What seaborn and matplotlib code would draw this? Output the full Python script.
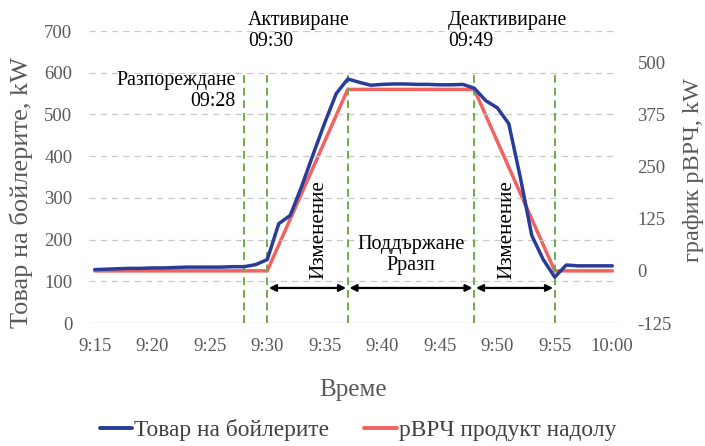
import matplotlib
matplotlib.use("Agg")
import matplotlib.pyplot as plt
import seaborn as sns
import pandas as pd

# Boiler load, kW, one reading per minute from 9:15 to 10:00
minutes = list(range(15, 61))
boiler_kw = [128, 129, 130, 131, 131, 132, 132, 133, 134, 134, 134, 134, 135, 135,
             140, 152, 238, 258, 328, 405, 480, 550, 585, 577, 570, 572, 573, 573,
             572, 572, 571, 571, 572, 563, 533, 516, 478, 350, 210, 152, 110, 139,
             137, 137, 137, 137]

# Downward aFRR product schedule (corner points), kW
product_minutes = [15, 30, 37, 48, 55, 60]
product_kw = [0, 0, 435, 435, 0, 0]

tick_minutes = [15, 20, 25, 30, 35, 40, 45, 50, 55, 60]
tick_labels = ["9:15", "9:20", "9:25", "9:30", "9:35", "9:40", "9:45", "9:50", "9:55", "10:00"]
event_minutes = [28, 30, 37, 48, 55]

left_ticks = [0, 100, 200, 300, 400, 500, 600, 700]
right_ticks = [-125, 0, 125, 250, 375, 500]

sns.set_theme(style="white")
plt.rcParams["font.family"] = "serif"
plt.rcParams["font.serif"] = ["Liberation Serif", "DejaVu Serif"]

BLUE = "#283c98"
RED = "#f2625e"
GREEN = "#6aad4a"
TICK = "#595959"

fig = plt.figure(figsize=(7.05, 4.46), dpi=100)
ax = fig.add_axes([89 / 705, 1 - 323 / 446, 529 / 705, 292 / 446])
ax2 = ax.twinx()

df_boiler = pd.DataFrame({"t": minutes, "kw": boiler_kw})
df_prod = pd.DataFrame({"t": product_minutes, "kw": product_kw})

for y in left_ticks[1:]:
    ax.axhline(y, color="#c8c8c8", lw=0.9, ls=(0, (5, 4)), zorder=0)
ax.axhline(0, color="#d9c8c8", lw=1.0, zorder=0)

# Event markers from the baseline up to the 600 kW grid line
ax.vlines(event_minutes, 0, 600, color=GREEN, lw=1.4, linestyles=(0, (4, 2.5)), zorder=1)

sns.lineplot(data=df_prod, x="t", y="kw", ax=ax2, color=RED, lw=2.5, zorder=3)
sns.lineplot(data=df_boiler, x="t", y="kw", ax=ax, color=BLUE, lw=2.5, zorder=4)

ax.set_zorder(ax2.get_zorder() + 1)
ax.patch.set_visible(False)

ax.set_xlim(14.5, 60.5)
ax.set_ylim(0, 700)
ax2.set_ylim(-125, 575)
ax.set_xticks(tick_minutes)
ax.set_xticklabels(tick_labels)
ax.set_yticks(left_ticks)
ax2.set_yticks(right_ticks)
ax2.set_yticklabels([str(v) for v in right_ticks])

for a in (ax, ax2):
    for s in a.spines.values():
        s.set_visible(False)
    a.tick_params(length=0, labelsize=13.5, labelcolor=TICK)
ax.tick_params(axis="x", pad=11)
ax.tick_params(axis="y", pad=12)
ax2.tick_params(axis="y", pad=14)

ax.set_xlabel("Време", fontsize=18, color=TICK, va="center")
ax.xaxis.set_label_coords(0.5, (323 - 390) / 292)
ax.set_ylabel("Товар на бойлерите, kW", fontsize=19, color=TICK, va="center")
ax.yaxis.set_label_coords((21 - 89) / 529, (323 - 193) / 292)
ax2.set_ylabel("график рВРЧ, kW", fontsize=17.5, color=TICK, va="center")
ax2.yaxis.set_label_coords((694 - 89) / 529, (323 - 170) / 292)

# Event labels
ax.text(27.25, 605, "Разпореждане\n09:28", ha="right", va="top", fontsize=14.3,
        color="black", linespacing=1.15)
ax.text(28.35, 700, "Активиране\n09:30", ha="left", va="center", fontsize=14.3,
        color="black", linespacing=1.15, clip_on=False)
ax.text(45.7, 700, "Деактивиране\n09:49", ha="left", va="center", fontsize=14.3,
        color="black", linespacing=1.15, clip_on=False)
ax.text(34.5, 223, "Изменение", rotation=90, ha="center", va="center",
        fontsize=15.2, color="black")
ax.text(50.8, 223, "Изменение", rotation=90, ha="center", va="center",
        fontsize=15.2, color="black")
ax.text(42.5, 163, "Поддържане\nРразп", ha="center", va="center", fontsize=14.5,
        color="black", linespacing=1.15)

# Phase spans
for a0, a1 in [(30, 37), (37, 48), (48, 55)]:
    ax.annotate("", xy=(a0 + 0.15, 84), xytext=(a1 - 0.15, 84),
                arrowprops=dict(arrowstyle="<|-|>", color="black", lw=1.6,
                                mutation_scale=10, shrinkA=0, shrinkB=0))

handles = [plt.Line2D([], [], color=BLUE, lw=2.8), plt.Line2D([], [], color=RED, lw=2.8)]
fig.legend(handles, ["Товар на бойлерите", "рВРЧ продукт надолу"], loc="center",
           bbox_to_anchor=(358 / 705, 1 - 430 / 446), ncol=2, frameon=False,
           fontsize=16.8, handlelength=1.38, handletextpad=0.1, columnspacing=1.5,
           labelcolor="#404040")

fig.savefig("out.png", dpi=100)
